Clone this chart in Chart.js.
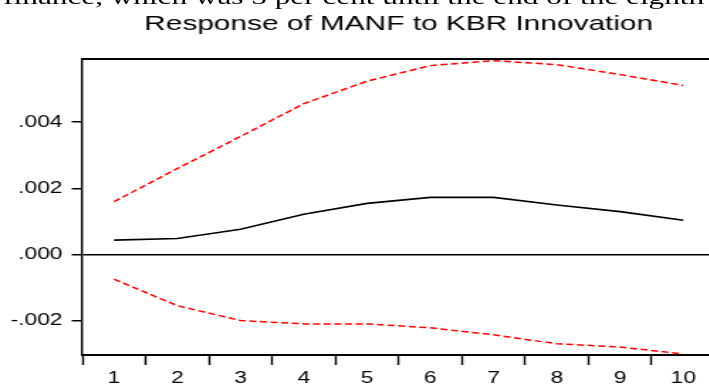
<!DOCTYPE html>
<html>
<head>
<meta charset="utf-8">
<script src="https://cdn.jsdelivr.net/npm/chart.js@4"></script>
<style>
  html, body { margin: 0; padding: 0; width: 709px; height: 385px; overflow: hidden; background: #fff; }
  /* the source figure is stretched sideways, so the whole page is too */
  #wrap { position: relative; width: 520px; height: 400px; transform: scaleX(1.42); transform-origin: 0 0; }
  #lead { position: absolute; top: -14px; left: 0; width: 520px; height: 24px; font: 22px "Liberation Serif", "Times New Roman", serif; line-height: 22px; white-space: nowrap; color: #000; }
  #lead .a { position: absolute; right: 442px; top: 0; }
  #lead .b { position: absolute; left: 78px; top: 0; }
  canvas { position: absolute; left: 0; top: 0; }
</style>
</head>
<body>
<div id="wrap">
  <div id="lead"><span class="a">finance,&nbsp;</span><span class="b">which was 5 per cent until the end of the eighth</span></div>
  <canvas class="graph" width="520" height="400"></canvas>
</div>
<script>
let chartTitle = "Response of MANF to KBR Innovation";
let periods = ["1", "2", "3", "4", "5", "6", "7", "8", "9", "10"];
let response = [0.00044, 0.00049, 0.00077, 0.00122, 0.00155, 0.00173, 0.00173, 0.0015, 0.0013, 0.00104];
let upperBand = [0.0016, 0.0026, 0.00357, 0.00456, 0.00524, 0.00571, 0.00586, 0.00574, 0.00544, 0.00511];
let lowerBand = [-0.00074, -0.00154, -0.00199, -0.00209, -0.00209, -0.00221, -0.00242, -0.00269, -0.00279, -0.003];
let yMin = -0.00303;
let yMax = 0.00591;
let yStep = 0.002;

Chart.defaults.font.family = '"Liberation Sans", Arial, sans-serif';
Chart.defaults.color = "#000";

// title centred over the plot box, not the canvas
const plotTitle = {
  id: "plotTitle",
  afterDraw(chart) {
    const { ctx, chartArea } = chart;
    ctx.save();
    ctx.font = '21px "Liberation Sans", Arial, sans-serif';
    ctx.fillStyle = "#000";
    ctx.textAlign = "center";
    ctx.textBaseline = "alphabetic";
    ctx.fillText(chartTitle, (chartArea.left + chartArea.right) / 2, chartArea.top - 29);
    ctx.restore();
  },
};

const fmt = (v) => v.toFixed(3).replace(/^(-?)0\./, "$1.");

const graph = new Chart(document.querySelector(".graph"), {
  type: "line",
  data: {
    labels: periods,
    datasets: [
      {
        data: upperBand,
        borderColor: "#ff0000",
        borderWidth: 1.5,
        borderDash: [5, 2.5],
        pointRadius: 0,
        tension: 0,
      },
      {
        data: lowerBand,
        borderColor: "#ff0000",
        borderWidth: 1.5,
        borderDash: [5, 2.5],
        pointRadius: 0,
        tension: 0,
      },
      {
        data: response,
        borderColor: "#000",
        borderWidth: 1.6,
        pointRadius: 0,
        tension: 0,
      },
    ],
  },
  options: {
    responsive: false,
    animation: false,
    devicePixelRatio: 1,
    layout: {
      padding: { top: 59, left: 0, right: 16.5, bottom: 0 },
    },
    plugins: {
      legend: { display: false },
      title: { display: false },
      tooltip: { enabled: false },
    },
    scales: {
      x: {
        type: "category",
        offset: true,
        afterFit: (s) => {
          s.height = 45;
        },
        border: { color: "#000", width: 2 },
        grid: {
          offset: true,
          color: "rgba(0,0,0,0)",
          tickColor: "#000",
          tickWidth: 1.4,
          tickLength: 10,
        },
        ticks: {
          padding: 4,
          font: { size: 16 },
          maxRotation: 0,
          autoSkip: false,
        },
      },
      x2: {
        type: "category",
        position: "top",
        labels: periods,
        offset: true,
        afterFit: (s) => {
          s.height = 0;
        },
        border: { color: "#000", width: 2 },
        grid: { display: false },
        ticks: { display: false },
      },
      y: {
        min: yMin,
        max: yMax,
        afterFit: (s) => {
          s.width = 58;
        },
        border: { color: "#000", width: 1.4 },
        grid: {
          color: (c) => (c.tick && c.tick.value === 0 ? "#000" : "rgba(0,0,0,0)"),
          lineWidth: 1.5,
          tickColor: "#000",
          tickWidth: 1.5,
          tickLength: 7.5,
        },
        ticks: {
          stepSize: yStep,
          includeBounds: false,
          padding: 6.5,
          font: { size: 16 },
          callback: (v) => fmt(v),
        },
      },
    },
  },
  plugins: [plotTitle],
});
</script>
</body>
</html>
